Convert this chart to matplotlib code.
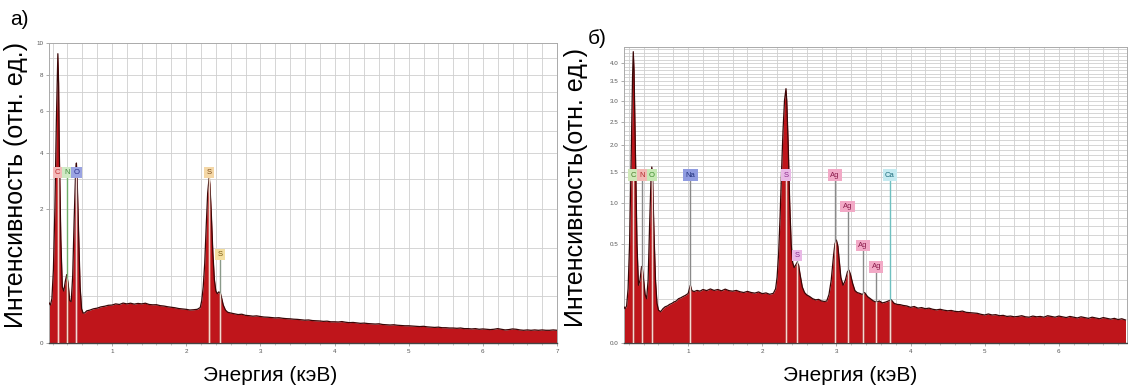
import numpy as np
import matplotlib.pyplot as plt
from matplotlib.ticker import FixedLocator, MultipleLocator

plt.rcParams['font.family'] = ['Liberation Sans', 'DejaVu Sans']

# ---- spectrum a) ----
energy_a = [0.15, 0.17, 0.19, 0.21, 0.23, 0.25, 0.27, 0.28, 0.29, 0.31, 0.33, 0.35, 0.37, 0.39,
            0.41, 0.43, 0.45, 0.47, 0.49, 0.51, 0.52, 0.53, 0.55, 0.57, 0.59, 0.61, 0.63, 0.66,
            0.70, 0.75, 0.80, 0.85, 0.90, 0.95, 1.00, 1.05, 1.10, 1.15, 1.20, 1.25, 1.30, 1.35,
            1.40, 1.45, 1.50, 1.55, 1.60, 1.65, 1.70, 1.75, 1.80, 1.85, 1.90, 1.95, 2.00, 2.05,
            2.10, 2.15, 2.19, 2.21, 2.23, 2.25, 2.27, 2.29, 2.31, 2.32, 2.34, 2.36, 2.38, 2.40,
            2.42, 2.44, 2.46, 2.48, 2.50, 2.53, 2.56, 2.60, 2.65, 2.70, 2.75, 2.80, 2.85, 2.90,
            2.95, 3.00, 3.05, 3.10, 3.15, 3.20, 3.25, 3.30, 3.35, 3.40, 3.45, 3.50, 3.55, 3.60,
            3.65, 3.70, 3.75, 3.80, 3.85, 3.90, 3.95, 4.00, 4.05, 4.10, 4.15, 4.20, 4.25, 4.30,
            4.35, 4.40, 4.45, 4.50, 4.55, 4.60, 4.65, 4.70, 4.75, 4.80, 4.85, 4.90, 4.95, 5.00,
            5.05, 5.10, 5.15, 5.20, 5.25, 5.30, 5.35, 5.40, 5.45, 5.50, 5.55, 5.60, 5.65, 5.70,
            5.75, 5.80, 5.85, 5.90, 5.95, 6.00, 6.05, 6.10, 6.15, 6.20, 6.25, 6.30, 6.35, 6.40,
            6.45, 6.50, 6.55, 6.60, 6.65, 6.70, 6.75, 6.80, 6.85, 6.90, 6.95, 7.00]
counts_a = [0.18, 0.16, 0.22, 0.6, 2.0, 5.5, 9.3, 7.5, 4.0, 1.2, 0.35, 0.30, 0.42, 0.52,
            0.38, 0.20, 0.19, 0.5, 1.7, 3.3, 3.6, 3.0, 1.3, 0.35, 0.13, 0.10, 0.10, 0.115,
            0.12, 0.13, 0.135, 0.145, 0.15, 0.158, 0.16, 0.17, 0.165, 0.177, 0.17, 0.176, 0.168, 0.174,
            0.17, 0.176, 0.165, 0.162, 0.163, 0.155, 0.152, 0.146, 0.142, 0.138, 0.132, 0.129, 0.126, 0.121,
            0.123, 0.126, 0.14, 0.2, 0.35, 0.7, 1.5, 2.5, 3.05, 2.8, 1.8, 0.9, 0.45, 0.3,
            0.27, 0.29, 0.28, 0.22, 0.16, 0.12, 0.105, 0.10, 0.095, 0.09, 0.092, 0.085, 0.083, 0.08,
            0.082, 0.078, 0.075, 0.074, 0.072, 0.07, 0.071, 0.068, 0.066, 0.065, 0.063, 0.062, 0.06, 0.058,
            0.059, 0.056, 0.055, 0.054, 0.052, 0.053, 0.05, 0.05, 0.049, 0.051, 0.048, 0.046, 0.047, 0.045,
            0.043, 0.044, 0.042, 0.041, 0.040, 0.041, 0.038, 0.037, 0.036, 0.037, 0.035, 0.034, 0.033, 0.033,
            0.032, 0.031, 0.030, 0.031, 0.029, 0.028, 0.027, 0.028, 0.026, 0.026, 0.025, 0.025, 0.024, 0.025,
            0.023, 0.023, 0.022, 0.023, 0.021, 0.022, 0.021, 0.020, 0.021, 0.023, 0.021, 0.019, 0.020, 0.022,
            0.021, 0.019, 0.018, 0.019, 0.018, 0.019, 0.018, 0.019, 0.018, 0.018, 0.019, 0.018]
elements_a = ['C', 'N', 'O', 'S', 'S']
lines_kev_a = [0.27, 0.39, 0.52, 2.31, 2.46]
tag_level_a = [3.1, 3.1, 3.1, 3.1, 0.80]
tag_bg_a = ['#f3b9b9', '#cfe9c4', '#9aa3e2', '#f4d7a6', '#f4dfa0']
tag_fg_a = ['#c0282a', '#3d8a3a', '#2a2f8a', '#7a4a1a', '#7a5a10']
line_col_a = ['#f1c9c9', '#6fae6a', '#a8b0d8', '#d8c8a8', '#8a9a8a']

# ---- spectrum б) ----
energy_b = [0.135, 0.15, 0.17, 0.19, 0.21, 0.23, 0.25, 0.26, 0.27, 0.29, 0.31, 0.33, 0.35, 0.37,
            0.38, 0.40, 0.42, 0.44, 0.46, 0.48, 0.50, 0.51, 0.52, 0.54, 0.56, 0.58, 0.60, 0.63,
            0.66, 0.69, 0.72, 0.75, 0.78, 0.81, 0.84, 0.87, 0.90, 0.93, 0.96, 1.00, 1.03, 1.05,
            1.08, 1.12, 1.16, 1.20, 1.25, 1.30, 1.35, 1.40, 1.45, 1.50, 1.55, 1.60, 1.65, 1.70,
            1.75, 1.80, 1.85, 1.90, 1.95, 2.00, 2.05, 2.10, 2.15, 2.18, 2.20, 2.22, 2.24, 2.26,
            2.28, 2.30, 2.32, 2.33, 2.35, 2.37, 2.39, 2.41, 2.43, 2.45, 2.47, 2.49, 2.51, 2.54,
            2.57, 2.60, 2.64, 2.68, 2.72, 2.76, 2.80, 2.84, 2.87, 2.90, 2.93, 2.96, 2.98, 3.00,
            3.02, 3.04, 3.06, 3.09, 3.12, 3.15, 3.17, 3.19, 3.22, 3.25, 3.28, 3.32, 3.35, 3.38,
            3.42, 3.46, 3.50, 3.54, 3.58, 3.62, 3.66, 3.70, 3.74, 3.78, 3.82, 3.86, 3.90, 3.95,
            4.00, 4.05, 4.10, 4.15, 4.20, 4.25, 4.30, 4.35, 4.40, 4.45, 4.50, 4.55, 4.60, 4.65,
            4.70, 4.75, 4.80, 4.85, 4.90, 4.95, 5.00, 5.05, 5.10, 5.15, 5.20, 5.25, 5.30, 5.35,
            5.40, 5.45, 5.50, 5.55, 5.60, 5.65, 5.70, 5.75, 5.80, 5.85, 5.90, 5.95, 6.00, 6.05,
            6.10, 6.15, 6.20, 6.25, 6.30, 6.35, 6.40, 6.45, 6.50, 6.55, 6.60, 6.65, 6.70, 6.75,
            6.80, 6.85, 6.90]
counts_b = [0.066, 0.06, 0.07, 0.15, 0.5, 1.6, 3.6, 4.33, 3.8, 1.8, 0.5, 0.17, 0.2, 0.29,
            0.30, 0.2, 0.12, 0.10, 0.2, 0.7, 1.4, 1.58, 1.4, 0.6, 0.2, 0.08, 0.055, 0.05,
            0.06, 0.067, 0.07, 0.076, 0.08, 0.086, 0.09, 0.1, 0.104, 0.11, 0.115, 0.125, 0.17, 0.14,
            0.135, 0.141, 0.137, 0.146, 0.14, 0.149, 0.141, 0.146, 0.139, 0.148, 0.14, 0.137, 0.141, 0.134,
            0.13, 0.136, 0.13, 0.127, 0.133, 0.124, 0.128, 0.121, 0.126, 0.15, 0.22, 0.4, 0.8, 1.5,
            2.3, 3.0, 3.3, 3.0, 2.0, 1.0, 0.5, 0.33, 0.29, 0.31, 0.33, 0.31, 0.24, 0.16,
            0.13, 0.118, 0.11, 0.1, 0.095, 0.097, 0.09, 0.088, 0.09, 0.12, 0.2, 0.38, 0.5, 0.54,
            0.48, 0.34, 0.22, 0.17, 0.2, 0.26, 0.27, 0.24, 0.18, 0.14, 0.13, 0.125, 0.12, 0.13,
            0.11, 0.1, 0.09, 0.085, 0.09, 0.082, 0.085, 0.09, 0.095, 0.08, 0.076, 0.075, 0.072, 0.07,
            0.065, 0.068, 0.062, 0.064, 0.06, 0.062, 0.058, 0.056, 0.058, 0.055, 0.053, 0.054, 0.051, 0.05,
            0.052, 0.048, 0.047, 0.046, 0.045, 0.042, 0.04, 0.043, 0.04, 0.041, 0.038, 0.039, 0.036, 0.037,
            0.035, 0.036, 0.038, 0.035, 0.034, 0.037, 0.035, 0.036, 0.034, 0.038, 0.036, 0.034, 0.037, 0.035,
            0.033, 0.036, 0.034, 0.032, 0.035, 0.033, 0.031, 0.034, 0.032, 0.030, 0.033, 0.031, 0.029, 0.031,
            0.028, 0.030, 0.027]
elements_b = ['C', 'N', 'O', 'Na', 'S', 'S', 'Ag', 'Ag', 'Ag', 'Ag', 'Ca']
lines_kev_b = [0.26, 0.38, 0.51, 1.03, 2.32, 2.47, 2.98, 3.15, 3.36, 3.54, 3.72]
tag_level_b = [1.38, 1.38, 1.38, 1.38, 1.38, 0.36, 1.38, 0.90, 0.45, 0.27, 1.38]
tag_bg_b = ['#cfe8b8', '#f2b8b4', '#c6e8b4', '#8f9be0', '#e9b8e6', '#e9b8e6',
            '#f2a9c6', '#f2a9c6', '#f2a9c6', '#f2a9c6', '#c4eaf0']
tag_fg_b = ['#4a7a2a', '#b02a2a', '#3a8a2a', '#20307a', '#8a2a8a', '#8a2a8a',
            '#8a1a4a', '#8a1a4a', '#8a1a4a', '#8a1a4a', '#1a6a7a']
line_col_b = ['#8a8a8a'] * 10 + ['#6fc0c0']


def sqrt_fwd(v):
    return np.sqrt(np.clip(v, 0, None))


def sqrt_inv(v):
    return np.square(v)


def draw_panel(ax, energy, counts, elements, kev, levels, bg, fg, lcol, xmin, xmax, ymax,
               yticks, ytick_labels, hgrid, xticks):
    ax.set_yscale('function', functions=(sqrt_fwd, sqrt_inv))
    ax.set_xlim(xmin, xmax)
    ax.set_ylim(0, ymax)

    # grid
    for g in np.arange(0.2, xmax, 0.2):
        ax.axvline(g, color='#cfcfcf', lw=0.6, zorder=0)
    for g in hgrid:
        ax.axhline(g, color='#cfcfcf', lw=0.6, zorder=0)

    poly = ax.fill_between(energy, 0, counts, color='#bf151b', lw=0, zorder=2)
    ax.plot(energy, counts, color='#3a0606', lw=0.9, zorder=3)

    clip_path = poly.get_paths()[0]
    for name, e, lev, b, f, lc in zip(elements, kev, levels, bg, fg, lcol):
        ax.plot([e, e], [0, lev], color=lc, lw=1.0, zorder=4)
        inner, = ax.plot([e, e], [0, lev], color='#f4d9cf', lw=1.0, zorder=5)
        inner.set_clip_path(clip_path, transform=ax.transData)
        ax.text(e, lev, name, ha='center', va='bottom', fontsize=5.5, color=f, zorder=6,
                bbox=dict(boxstyle='square,pad=0.3', fc=b, ec='none'))

    ax.xaxis.set_major_locator(FixedLocator(xticks))
    ax.set_xticklabels([str(t) for t in xticks])
    ax.yaxis.set_major_locator(FixedLocator(yticks))
    ax.set_yticklabels(ytick_labels)
    ax.xaxis.set_minor_locator(MultipleLocator(0.2))
    ax.tick_params(axis='both', which='major', labelsize=4.5, labelcolor='#555555',
                   color='#888888', length=2, width=0.5, pad=2)
    ax.tick_params(axis='both', which='minor', color='#999999', length=1.2, width=0.4)
    for s in ['top', 'right', 'left']:
        ax.spines[s].set_color('#aaaaaa')
        ax.spines[s].set_linewidth(0.7)
    ax.spines['bottom'].set_color('#444444')
    ax.spines['bottom'].set_linewidth(1.0)


fig = plt.figure(figsize=(11.28, 3.90), dpi=100)
ax_a = fig.add_axes([0.0434, 0.1205, 0.4504, 0.7692])
ax_b = fig.add_axes([0.5532, 0.1205, 0.4459, 0.7590])

draw_panel(ax_a, energy_a, counts_a, elements_a, lines_kev_a, tag_level_a, tag_bg_a, tag_fg_a,
           line_col_a, 0.15, 7.0, 10.0, [0, 2, 4, 6, 8, 10], ['0', '2', '4', '6', '8', '10'],
           [0.25, 0.5, 1, 2, 3, 4, 5, 6, 7, 8, 9], [1, 2, 3, 4, 5, 6, 7])
draw_panel(ax_b, energy_b, counts_b, elements_b, lines_kev_b, tag_level_b, tag_bg_b, tag_fg_b,
           line_col_b, 0.135, 6.92, 4.47, [0, 0.5, 1, 1.5, 2, 2.5, 3, 3.5, 4],
           ['0.0', '0.5', '1.0', '1.5', '2.0', '2.5', '3.0', '3.5', '4.0'],
           np.arange(0.1, 4.45, 0.1), [1, 2, 3, 4, 5, 6])

ax_a.set_ylabel('Интенсивность (отн. ед.)', fontsize=18)
ax_a.yaxis.set_label_coords(-0.041, 0.527)
ax_a.set_xlabel('Энергия (кэВ)', fontsize=15)
ax_a.xaxis.set_label_coords(0.435, -0.075)
ax_b.set_ylabel('Интенсивность(отн. ед.)', fontsize=18)
ax_b.yaxis.set_label_coords(-0.072, 0.525)
ax_b.set_xlabel('Энергия (кэВ)', fontsize=15)
ax_b.xaxis.set_label_coords(0.449, -0.078)

fig.text(0.009, 0.950, 'а)', fontsize=15, va='center', ha='left')
fig.text(0.521, 0.902, 'б)', fontsize=15, va='center', ha='left')

fig.savefig('out.png', dpi=100)
